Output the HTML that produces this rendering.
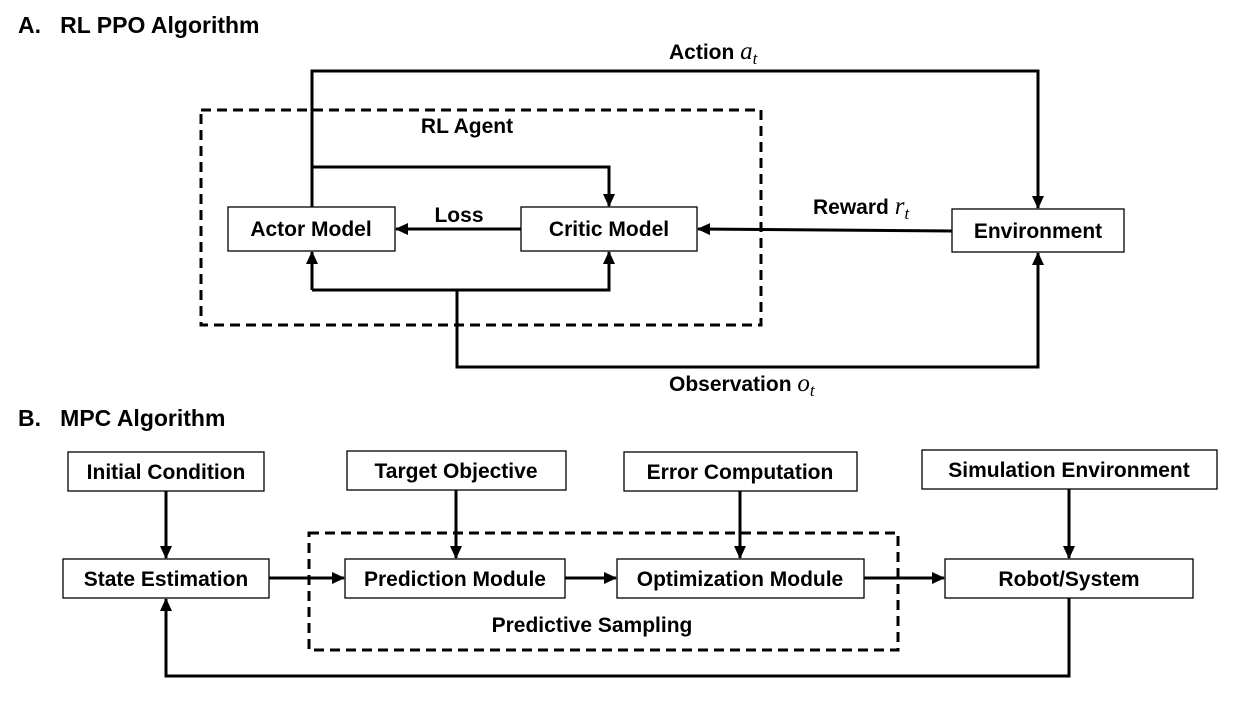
<!DOCTYPE html>
<html><head><meta charset="utf-8"><style>
html,body{margin:0;padding:0;background:#fff;}
svg{display:block;}
text{font-family:"Liberation Sans",sans-serif;font-weight:bold;fill:#000;}
.m{font-family:"Liberation Serif",serif;font-style:italic;font-weight:normal;}
</style></head><body>
<svg width="1236" height="703" viewBox="0 0 1236 703" xmlns="http://www.w3.org/2000/svg">
<defs>
<marker id="a" markerWidth="13" markerHeight="12" refX="12" refY="6" orient="auto" markerUnits="userSpaceOnUse">
<path d="M0,0 L13,6 L0,12 z" fill="#000"/></marker>
</defs>
<g fill="none" stroke="#000" stroke-width="3">
<rect x="201" y="110" width="560" height="215" stroke-dasharray="10,6"/>
<polyline points="312,208 312,71 1038,71 1038,208" marker-end="url(#a)"/>
<polyline points="312,167 609,167 609,206" marker-end="url(#a)"/>
<line x1="521" y1="229" x2="396" y2="229" marker-end="url(#a)"/>
<line x1="952" y1="231" x2="698" y2="229" marker-end="url(#a)"/>
<polyline points="312,290 312,252" marker-end="url(#a)"/>
<polyline points="312,290 609,290 609,252" marker-end="url(#a)"/>
<polyline points="457,290 457,367 1038,367 1038,253" marker-end="url(#a)"/>
<rect x="309" y="533" width="589" height="117" stroke-dasharray="10,6"/>
<line x1="166" y1="491" x2="166" y2="558" marker-end="url(#a)"/>
<line x1="456" y1="490" x2="456" y2="558" marker-end="url(#a)"/>
<line x1="740" y1="491" x2="740" y2="558" marker-end="url(#a)"/>
<line x1="1069" y1="489" x2="1069" y2="558" marker-end="url(#a)"/>
<line x1="269" y1="578" x2="344" y2="578" marker-end="url(#a)"/>
<line x1="565" y1="578" x2="616" y2="578" marker-end="url(#a)"/>
<line x1="864" y1="578" x2="944" y2="578" marker-end="url(#a)"/>
<polyline points="1069,598 1069,676 166,676 166,599" marker-end="url(#a)"/>
</g>
<g fill="#fff" stroke="#000" stroke-width="1.3">
<rect x="228" y="207" width="167" height="44"/>
<rect x="521" y="207" width="176" height="44"/>
<rect x="952" y="209" width="172" height="43"/>
<rect x="68" y="452" width="196" height="39"/>
<rect x="347" y="451" width="219" height="39"/>
<rect x="624" y="452" width="233" height="39"/>
<rect x="922" y="450" width="295" height="39"/>
<rect x="63" y="559" width="206" height="39"/>
<rect x="345" y="559" width="220" height="39"/>
<rect x="617" y="559" width="247" height="39"/>
<rect x="945" y="559" width="248" height="39"/>
</g>
<g font-size="21">
<text x="18" y="33" font-size="23">A.&#160;&#160;&#160;RL PPO Algorithm</text>
<text x="18" y="426" font-size="23">B.&#160;&#160;&#160;MPC Algorithm</text>
<text x="467" y="133" text-anchor="middle">RL Agent</text>
<text x="669" y="59">Action <tspan class="m" font-size="25">a</tspan><tspan class="m" font-size="17" dy="5">t</tspan></text>
<text x="311" y="236" text-anchor="middle">Actor Model</text>
<text x="609" y="236" text-anchor="middle">Critic Model</text>
<text x="459" y="222" text-anchor="middle">Loss</text>
<text x="813" y="214">Reward <tspan class="m" font-size="25">r</tspan><tspan class="m" font-size="17" dy="5">t</tspan></text>
<text x="1038" y="238" text-anchor="middle">Environment</text>
<text x="669" y="391">Observation <tspan class="m" font-size="25">o</tspan><tspan class="m" font-size="17" dy="5">t</tspan></text>
<text x="166" y="479" text-anchor="middle">Initial Condition</text>
<text x="456" y="478" text-anchor="middle">Target Objective</text>
<text x="740" y="479" text-anchor="middle">Error Computation</text>
<text x="1069" y="477" text-anchor="middle">Simulation Environment</text>
<text x="166" y="586" text-anchor="middle">State Estimation</text>
<text x="455" y="586" text-anchor="middle">Prediction Module</text>
<text x="740" y="586" text-anchor="middle">Optimization Module</text>
<text x="1069" y="586" text-anchor="middle">Robot/System</text>
<text x="592" y="632" text-anchor="middle">Predictive Sampling</text>
</g>
</svg>
</body></html>
